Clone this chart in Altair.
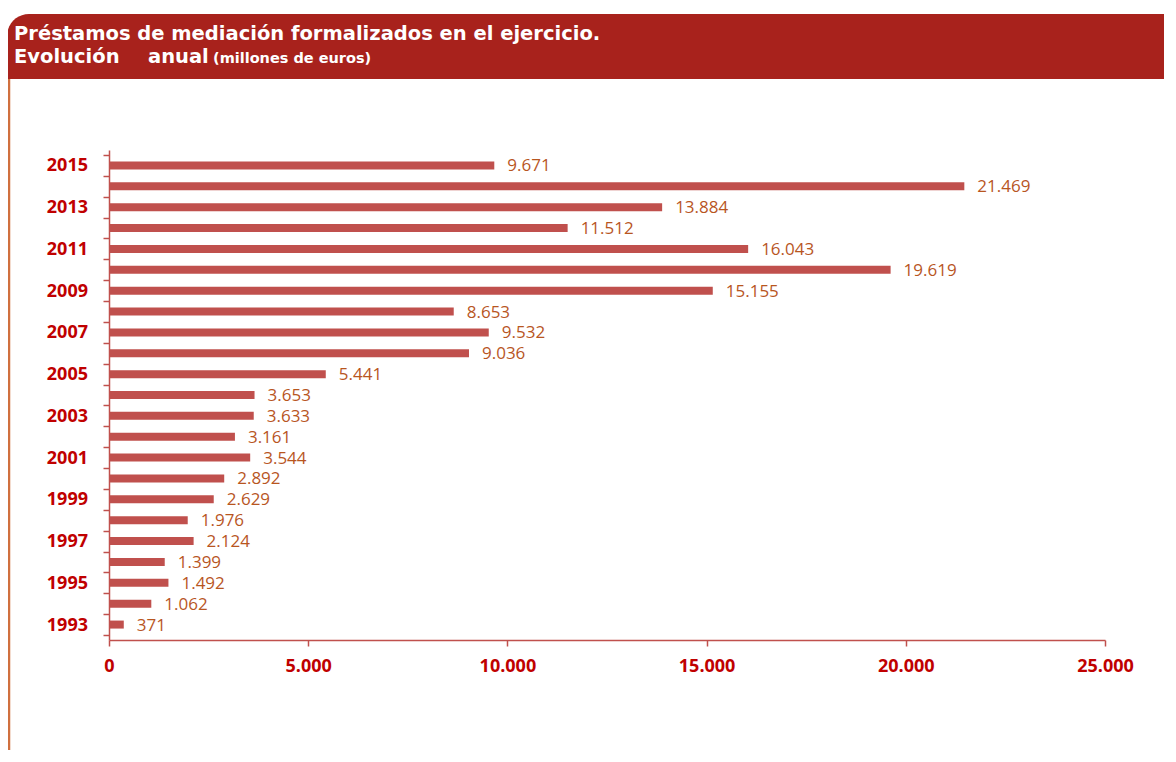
import altair as alt
import pandas as pd

years = list(range(1993, 2016))
values = [371, 1062, 1492, 1399, 2124, 1976, 2629, 2892, 3544, 3161, 3633, 3653,
          5441, 9036, 9532, 8653, 15155, 19619, 16043, 11512, 13884, 21469, 9671]
labels = [f"{v:,}".replace(",", ".") for v in values]
x_ticks = [0, 5000, 10000, 15000, 20000, 25000]
y_ticks = [y - 0.5 for y in years] + [years[-1] + 0.5]
year_labels = [str(y) if y % 2 == 1 else "" for y in years]

title_line1 = "Préstamos de mediación formalizados en el ejercicio."
title_line2a = "Evolución"
title_line2b = "anual"
title_units = "(millones de euros)"

df = pd.DataFrame({"year": years, "value": values, "label": labels,
                   "ylabel": year_labels})

AXIS_RED = "#C0504D"
LABEL_RED = "#C00000"
BAR = "#C0504D"
VAL = "#B8561F"
HEADER = "#A8221C"

x_enc = alt.X(
    "value:Q",
    scale=alt.Scale(domain=[0, 25000], nice=False),
    axis=alt.Axis(
        values=x_ticks, title=None, grid=False,
        labelExpr="replace(format(datum.value, ','), ',', '.')",
        labelFont="Open Sans", labelFontSize=18, labelFontWeight="bold",
        labelColor=LABEL_RED, labelPadding=11, tickSize=6,
        tickColor=AXIS_RED, domainColor=AXIS_RED, domainWidth=1.5, tickWidth=1.5,
        labelFlush=False,
    ),
)
y_enc = alt.Y(
    "year:Q",
    scale=alt.Scale(domain=[1992.5, 2015.5], nice=False, zero=False),
    axis=alt.Axis(
        values=y_ticks, tickCount=len(y_ticks) + 6, title=None, grid=False,
        labels=False, tickSize=6, tickColor=AXIS_RED, domainColor=AXIS_RED,
        domainWidth=1.5, tickWidth=1.5,
    ),
)

base = alt.Chart(df)
bars = base.mark_bar(color=BAR, size=8, orient="horizontal").encode(x=x_enc, y=y_enc)
texts = base.mark_text(align="left", baseline="middle", dx=13, dy=1,
                       font="Open Sans", fontSize=17, color=VAL).encode(
    x="value:Q", y="year:Q", text="label:N")
ylabels = base.mark_text(align="right", baseline="middle", dy=1,
                         font="Open Sans", fontSize=18, fontWeight="bold",
                         color=LABEL_RED).encode(
    x=alt.value(-21), y="year:Q", text="ylabel:N")

one = pd.DataFrame({"k": [0]})
header = alt.Chart(one).mark_rect(
    color=HEADER, cornerRadiusTopLeft=22, cornerRadiusTopRight=10
).encode(x=alt.value(-102), x2=alt.value(1068), y=alt.value(-136), y2=alt.value(-71))
border = alt.Chart(one).mark_rule(color="#D0703F", strokeWidth=2.5).encode(
    x=alt.value(-100), y=alt.value(-71), y2=alt.value(612))


def title_text(txt, x, y, size):
    return alt.Chart(one).mark_text(
        align="left", baseline="alphabetic", font="DejaVu Sans", fontSize=size,
        fontWeight="bold", color="white", text=txt
    ).encode(x=alt.value(x), y=alt.value(y))


t1 = title_text(title_line1, -95, -110, 19.5)
t2 = title_text(title_line2a, -95, -87, 19.5)
t2b = title_text(title_line2b, 39, -87, 19.5)
t3 = title_text(title_units, 104, -87, 14.5)

chart = alt.layer(header, border, t1, t2, t2b, t3, bars, texts, ylabels).properties(
    width=996, height=490,
    autosize=alt.AutoSizeParams(type="none"),
    padding={"left": 101, "top": 142, "right": 59, "bottom": 110},
    background="white",
).configure_view(stroke=None)

chart.save("out.html", embed_options={"renderer": "svg", "actions": False})
